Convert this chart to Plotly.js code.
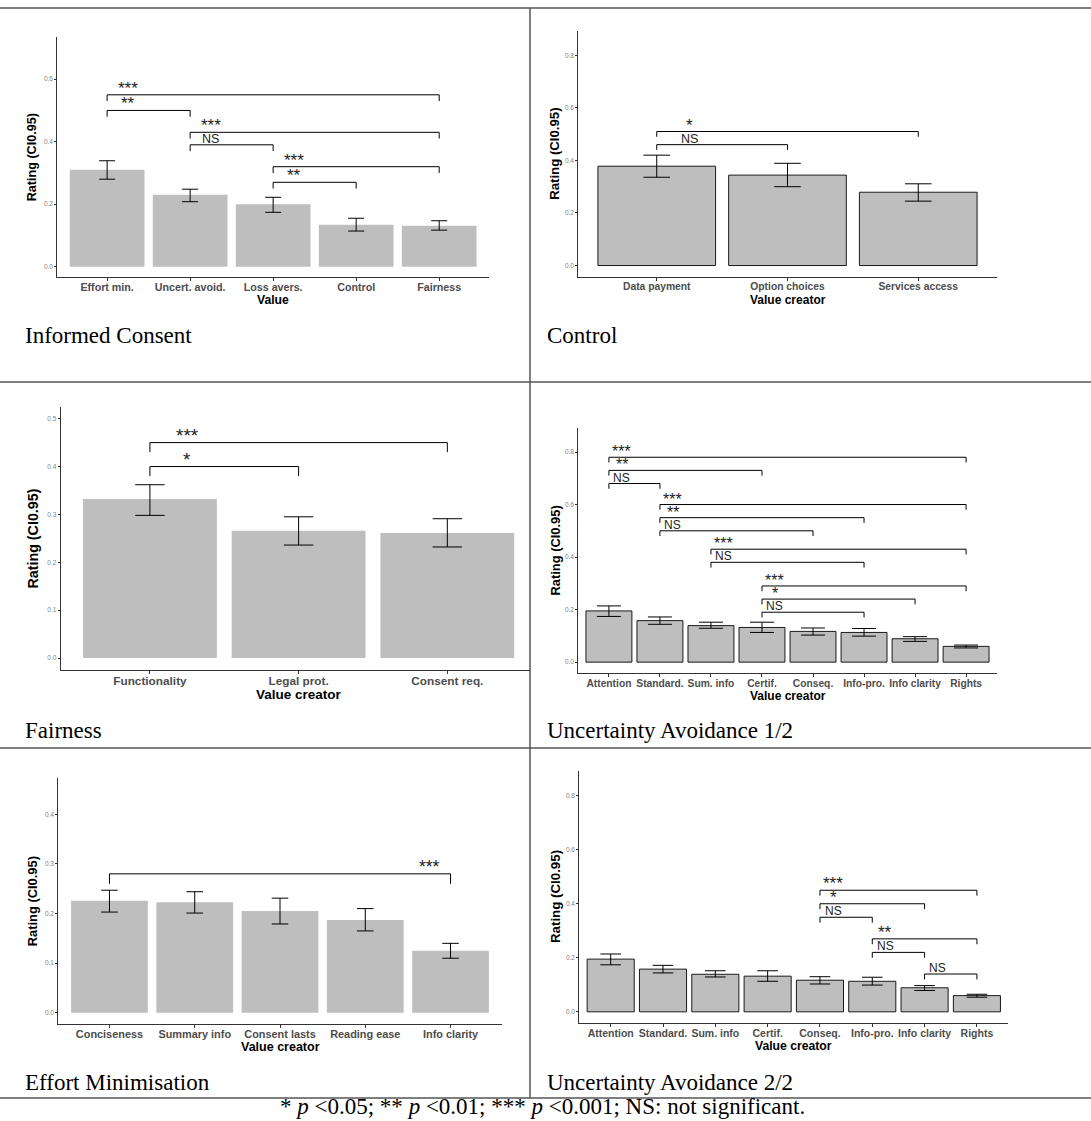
<!DOCTYPE html>
<html><head><meta charset="utf-8">
<script src="https://cdn.plot.ly/plotly-3.0.1.min.js"></script>
<style>html,body{margin:0;padding:0;background:#fff}#plot{width:1091px;height:1121px}</style>
</head><body><div id="plot"></div>
<script>
// ---------- DATA ----------
// Informed Consent
const icCats = ["Effort min.", "Uncert. avoid.", "Loss avers.", "Control", "Fairness"];
const icVals = [0.310, 0.230, 0.200, 0.134, 0.131];
const icLo   = [0.280, 0.208, 0.174, 0.114, 0.117];
const icHi   = [0.339, 0.248, 0.222, 0.155, 0.147];
const icBrFrom = [0, 0, 1, 1, 2, 2];
const icBrTo   = [4, 1, 4, 2, 4, 3];
const icBrY    = [0.55, 0.50, 0.43, 0.39, 0.32, 0.27];
const icBrLab  = ["***", "**", "***", "NS", "***", "**"];

// Control
const ctCats = ["Data payment", "Option choices", "Services access"];
const ctVals = [0.378, 0.344, 0.279];
const ctLo   = [0.336, 0.300, 0.245];
const ctHi   = [0.420, 0.389, 0.311];
const ctBrFrom = [0, 0];
const ctBrTo   = [2, 1];
const ctBrY    = [0.51, 0.46];
const ctBrLab  = ["*", "NS"];

// Fairness
const faCats = ["Functionality", "Legal prot.", "Consent req."];
const faVals = [0.332, 0.266, 0.261];
const faLo   = [0.298, 0.236, 0.232];
const faHi   = [0.362, 0.295, 0.291];
const faBrFrom = [0, 0];
const faBrTo   = [2, 1];
const faBrY    = [0.45, 0.40];
const faBrLab  = ["***", "*"];

// Uncertainty Avoidance (same bars in 1/2 and 2/2)
const uaCats = ["Attention", "Standard.", "Sum. info", "Certif.", "Conseq.", "Info-pro.", "Info clarity", "Rights"];
const uaVals = [0.195, 0.158, 0.139, 0.132, 0.117, 0.113, 0.089, 0.060];
const uaLo   = [0.174, 0.144, 0.129, 0.113, 0.103, 0.099, 0.079, 0.054];
const uaHi   = [0.214, 0.172, 0.152, 0.152, 0.130, 0.128, 0.097, 0.065];
const ua1BrFrom = [0, 0, 0, 1, 1, 1, 2, 2, 3, 3, 3];
const ua1BrTo   = [7, 3, 1, 7, 5, 4, 7, 5, 7, 6, 5];
const ua1BrY    = [0.78, 0.73, 0.68, 0.60, 0.55, 0.50, 0.43, 0.38, 0.29, 0.24, 0.19];
const ua1BrLab  = ["***", "**", "NS", "***", "**", "NS", "***", "NS", "***", "*", "NS"];
const ua2BrFrom = [4, 4, 4, 5, 5, 6];
const ua2BrTo   = [7, 6, 5, 7, 6, 7];
const ua2BrY    = [0.45, 0.40, 0.35, 0.27, 0.22, 0.14];
const ua2BrLab  = ["***", "*", "NS", "**", "NS", "NS"];

// Effort Minimisation
const emCats = ["Conciseness", "Summary info", "Consent lasts", "Reading ease", "Info clarity"];
const emVals = [0.226, 0.223, 0.205, 0.187, 0.125];
const emLo   = [0.203, 0.201, 0.179, 0.165, 0.110];
const emHi   = [0.247, 0.244, 0.231, 0.210, 0.140];
const emBrFrom = [0];
const emBrTo   = [4];
const emBrY    = [0.28];
const emBrLab  = ["***"];

// Captions
const captions = ["Informed Consent", "Control", "Fairness", "Uncertainty Avoidance 1/2", "Effort Minimisation", "Uncertainty Avoidance 2/2"];
const footnote = "* <i>p</i> &lt;0.05; ** <i>p</i> &lt;0.01; *** <i>p</i> &lt;0.001; NS: not significant.";

// ---------- LAYOUT / STYLE ----------
const W = 1091, H = 1121;
const fx = p => p / W;
const fy = p => 1 - p / H;

const panels = [
  {cats: icCats, vals: icVals, lo: icLo, hi: icHi, bf: icBrFrom, bt: icBrTo, by: icBrY, bl: icBrLab, xtitle: "Value",
   box: [57.3, 489, 37, 277], xr: [-0.6, 4.6], yr: [-0.033, 0.735], ytv: [0, 0.2, 0.4, 0.6],
   cap: 8, outline: false, side: "start", tf: 10.7, xtf: 12.2, ytf: 12.6, xt: [273, 300], yt: [32.3, 157], star: 17, ns: 12.5,
   capPos: [23, 335]},
  {cats: ctCats, vals: ctVals, lo: ctLo, hi: ctHi, bf: ctBrFrom, bt: ctBrTo, by: ctBrY, bl: ctBrLab, xtitle: "Value creator",
   box: [578.3, 996.7, 31, 276.7], xr: [-0.6, 2.6], yr: [-0.0425, 0.8925], ytv: [0, 0.2, 0.4, 0.6, 0.8],
   cap: 13.3, outline: true, side: "start", tf: 10.3, xtf: 12, ytf: 13.2, xt: [787.5, 300], yt: [555, 153.8], star: 17, ns: 12.5,
   capPos: [545, 335]},
  {cats: faCats, vals: faVals, lo: faLo, hi: faHi, bf: faBrFrom, bt: faBrTo, by: faBrY, bl: faBrLab, xtitle: "Value creator",
   box: [60.7, 530, 406.7, 670], xr: [-0.6, 2.556], yr: [-0.025, 0.525], ytv: [0, 0.1, 0.2, 0.3, 0.4, 0.5],
   cap: 14.7, outline: false, side: "start", tf: 11.8, xtf: 13.5, ytf: 14.3, xt: [298.7, 694.3], yt: [33.3, 538.3], star: 19, ns: 13.5,
   capPos: [23, 730]},
  {cats: uaCats, vals: uaVals, lo: uaLo, hi: uaHi, bf: ua1BrFrom, bt: ua1BrTo, by: ua1BrY, bl: ua1BrLab, xtitle: "Value creator",
   box: [578.3, 996.7, 427.7, 673.3], xr: [-0.6, 7.6], yr: [-0.0425, 0.8925], ytv: [0, 0.2, 0.4, 0.6, 0.8],
   cap: 12, outline: true, side: "start", tf: 10.25, xtf: 12, ytf: 12.9, xt: [787.7, 695.7], yt: [555, 550.5], star: 16, ns: 12,
   capPos: [545, 730]},
  {cats: emCats, vals: emVals, lo: emLo, hi: emHi, bf: emBrFrom, bt: emBrTo, by: emBrY, bl: emBrLab, xtitle: "Value creator",
   box: [58.3, 501.7, 778.3, 1024], xr: [-0.6, 4.6], yr: [-0.0225, 0.4725], ytv: [0, 0.1, 0.2, 0.3, 0.4],
   cap: 8.3, outline: false, side: "end", tf: 10.9, xtf: 12.5, ytf: 12.9, xt: [280, 1046.7], yt: [32.3, 901], star: 17.5, ns: 12.5,
   capPos: [23, 1082]},
  {cats: uaCats, vals: uaVals, lo: uaLo, hi: uaHi, bf: ua2BrFrom, bt: ua2BrTo, by: ua2BrY, bl: ua2BrLab, xtitle: "Value creator",
   box: [579.3, 1008.3, 770.7, 1023.3], xr: [-0.6, 7.6], yr: [-0.0425, 0.8925], ytv: [0, 0.2, 0.4, 0.6, 0.8],
   cap: 10.3, outline: true, side: "start", tf: 10.5, xtf: 12.2, ytf: 13.3, xt: [793.8, 1046], yt: [555, 897], star: 17, ns: 12,
   capPos: [545, 1082]}
];

const SANS = "Liberation Sans, Arial, Helvetica, sans-serif";
const SERIF = "Liberation Serif, Times New Roman, serif";
const TIP = 0.02;

const traces = [];
const layout = {
  width: W, height: H, margin: {l: 0, r: 0, t: 0, b: 0},
  paper_bgcolor: "#fff", plot_bgcolor: "rgba(0,0,0,0)",
  showlegend: false, annotations: [], shapes: []
};

panels.forEach((p, i) => {
  const k = i + 1;
  const xa = "x" + (k === 1 ? "" : k), ya = "y" + (k === 1 ? "" : k);
  const idx = p.cats.map((c, j) => j);
  traces.push({
    type: "bar", x: idx, y: p.vals, width: 0.9, xaxis: xa, yaxis: ya,
    marker: {color: "#BEBEBE", line: {color: p.outline ? "#1a1a1a" : "rgba(0,0,0,0)", width: p.outline ? 1 : 0}},
    error_y: {type: "data", symmetric: false,
      array: p.hi.map((h, j) => h - p.vals[j]), arrayminus: p.lo.map((l, j) => p.vals[j] - l),
      color: "#000", thickness: 1, width: p.cap},
    hoverinfo: "skip"
  });
  const bx = [], byy = [];
  p.bf.forEach((f, j) => {
    const t = p.bt[j], y = p.by[j];
    bx.push(f, f, t, t, null);
    byy.push(y - TIP, y, y, y - TIP, null);
    const isNS = p.bl[j] === "NS";
    layout.annotations.push({
      xref: xa, yref: ya, x: p.side === "start" ? f + 0.25 : t - 0.25, y: y,
      text: p.bl[j], showarrow: false, xanchor: "center", yanchor: "bottom",
      borderpad: 0, yshift: isNS ? -2 : -4,
      font: {family: SANS, size: isNS ? p.ns : p.star, color: "#222"}
    });
  });
  traces.push({type: "scatter", mode: "lines", x: bx, y: byy, xaxis: xa, yaxis: ya,
    line: {color: "#000", width: 1}, hoverinfo: "skip", connectgaps: false});

  const [L, R, T, B] = p.box;
  layout["xaxis" + (k === 1 ? "" : k)] = {
    domain: [fx(L), fx(R)], anchor: ya, range: p.xr, fixedrange: true,
    tickvals: idx, ticktext: p.cats, ticks: "outside", ticklen: 3, tickwidth: 1, tickcolor: "#333",
    ticklabelstandoff: -3,
    showline: true, linecolor: "#333", linewidth: 1, showgrid: false, zeroline: false,
    tickfont: {family: SANS, size: p.tf, color: "#4D4D4D", weight: "bold"}
  };
  layout["yaxis" + (k === 1 ? "" : k)] = {
    domain: [fy(B), fy(T)], anchor: xa, range: p.yr, fixedrange: true,
    tickvals: p.ytv, tickformat: ".1f", ticks: "outside", ticklen: 2, tickwidth: 1, tickcolor: "#333",
    showline: true, linecolor: "#333", linewidth: 1, showgrid: false, zeroline: false,
    tickfont: {family: SANS, size: 6.5, color: "#7F7F7F"}
  };
  layout.annotations.push({
    xref: "paper", yref: "paper", x: fx(p.xt[0]), y: fy(p.xt[1]), text: p.xtitle, showarrow: false,
    xanchor: "center", yanchor: "middle", font: {family: SANS, size: p.xtf, color: "#000", weight: "bold"}
  });
  layout.annotations.push({
    xref: "paper", yref: "paper", x: fx(p.yt[0]), y: fy(p.yt[1]), text: "Rating (CI0.95)", showarrow: false,
    textangle: -90, xanchor: "center", yanchor: "middle", font: {family: SANS, size: p.ytf, color: "#000", weight: "bold"}
  });
  layout.annotations.push({
    xref: "paper", yref: "paper", x: fx(p.capPos[0]), y: fy(p.capPos[1]), text: captions[i], showarrow: false,
    xanchor: "left", yanchor: "middle", font: {family: SERIF, size: 23, color: "#000"}
  });
});

layout.annotations.push({
  xref: "paper", yref: "paper", x: fx(542), y: fy(1106), text: footnote, showarrow: false,
  xanchor: "center", yanchor: "middle", borderpad: 0, font: {family: SERIF, size: 23, color: "#000"}
});

// table rules
const rule = (x0, y0, x1, y1) => ({type: "line", xref: "paper", yref: "paper",
  x0: fx(x0), y0: fy(y0), x1: fx(x1), y1: fy(y1), line: {color: "#555", width: 1.5}, layer: "below"});
layout.shapes.push(rule(0, 8, W, 8), rule(0, 382, W, 382), rule(0, 748, W, 748), rule(0, 1098, W, 1098), rule(530, 8, 530, 1098));

Plotly.newPlot("plot", traces, layout, {staticPlot: true, displayModeBar: false});
</script></body></html>
